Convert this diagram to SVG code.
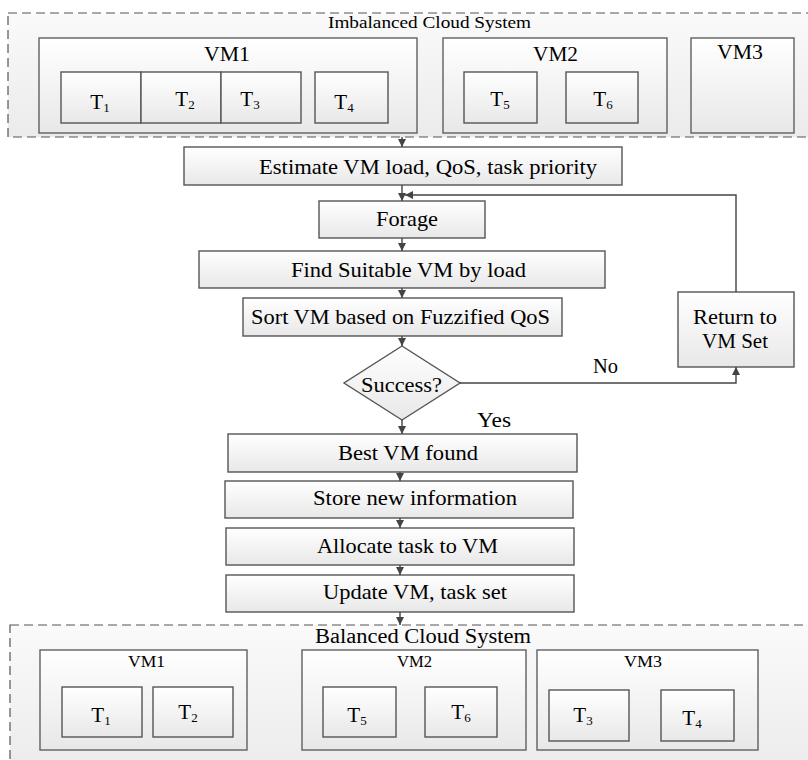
<svg xmlns="http://www.w3.org/2000/svg" width="808" height="760" viewBox="0 0 808 760">
  <defs>
    <linearGradient id="boxFill" x1="0" y1="0" x2="0" y2="1">
      <stop offset="0" stop-color="#ffffff"/>
      <stop offset="1" stop-color="#e8e8e8"/>
    </linearGradient>
    <linearGradient id="zoneFill" x1="0" y1="0" x2="0" y2="1">
      <stop offset="0" stop-color="#fafafa"/>
      <stop offset="1" stop-color="#ebebeb"/>
    </linearGradient>
    <marker id="arrow" viewBox="0 0 10 10" refX="10" refY="5" markerWidth="8" markerHeight="8" markerUnits="userSpaceOnUse" orient="auto">
      <path d="M0,0 L10,5 L0,10 z" fill="#444"/>
    </marker>
    <style>
      .zone { fill: url(#zoneFill); stroke: #555; stroke-width: 1.2; stroke-dasharray: 9 5; }
      .vm { fill: url(#boxFill); stroke: #606060; stroke-width: 1.4; }
      .task { fill: url(#boxFill); stroke: #555; stroke-width: 1.4; }
      .step { fill: url(#boxFill); stroke: #555; stroke-width: 1.4; }
      .lbl { font-family: "Liberation Serif", "Times New Roman", serif; fill: #000; }
      .f22 { font-size: 22px; }
      .f20 { font-size: 20px; }
      .f17 { font-size: 17px; }
      .f16 { font-size: 16px; }
      .tk { font-family: "Liberation Serif", "Times New Roman", serif; font-size: 21px; fill: #000; text-anchor: middle; }
      .sub { font-size: 13px; }
      .conn { fill: none; stroke: #444; stroke-width: 1.4; marker-end: url(#arrow); }
    </style>
  </defs>

  <rect width="808" height="760" fill="#ffffff"/>

  <!-- Initial cloud state -->
  <g id="imbalanced">
    <rect class="zone" x="8" y="13" width="820" height="124"/>
    <text class="lbl f17" x="328" y="28" textLength="203" lengthAdjust="spacingAndGlyphs">Imbalanced Cloud System</text>
    <g id="top-vm1">
      <rect class="vm" x="39" y="38" width="378" height="95"/>
      <text class="lbl f20" x="204" y="61" textLength="46" lengthAdjust="spacingAndGlyphs">VM1</text>
      <rect class="task" x="61" y="72" width="80" height="51"/>
      <rect class="task" x="141" y="72" width="80" height="51"/>
      <rect class="task" x="221" y="72" width="80" height="51"/>
      <rect class="task" x="315" y="72" width="73" height="51"/>
      <text class="tk" x="100" y="109">T<tspan class="sub" dy="3">1</tspan></text>
      <text class="tk" x="185" y="106">T<tspan class="sub" dy="3">2</tspan></text>
      <text class="tk" x="250" y="106">T<tspan class="sub" dy="3">3</tspan></text>
      <text class="tk" x="344" y="109">T<tspan class="sub" dy="3">4</tspan></text>
    </g>
    <g id="top-vm2">
      <rect class="vm" x="443" y="38" width="224" height="95"/>
      <text class="lbl f20" x="533" y="61" textLength="45" lengthAdjust="spacingAndGlyphs">VM2</text>
      <rect class="task" x="464" y="72" width="73" height="51"/>
      <rect class="task" x="566" y="72" width="72" height="51"/>
      <text class="tk" x="500" y="106">T<tspan class="sub" dy="3">5</tspan></text>
      <text class="tk" x="603" y="106">T<tspan class="sub" dy="3">6</tspan></text>
    </g>
    <g id="top-vm3">
      <rect class="vm" x="691" y="38" width="103" height="95"/>
      <text class="lbl f20" x="717" y="59" textLength="46" lengthAdjust="spacingAndGlyphs">VM3</text>
    </g>
  </g>

  <!-- Flow steps -->
  <g id="estimate">
    <rect class="step" x="184" y="147" width="438" height="38"/>
    <text class="lbl f22" x="259" y="174" textLength="338" lengthAdjust="spacingAndGlyphs">Estimate VM load, QoS, task priority</text>
  </g>
  <g id="forage">
    <rect class="step" x="319" y="201" width="166" height="37"/>
    <text class="lbl f22" x="376" y="226" textLength="62" lengthAdjust="spacingAndGlyphs">Forage</text>
  </g>
  <g id="find-vm">
    <rect class="step" x="199" y="251" width="406" height="37"/>
    <text class="lbl f22" x="291" y="277" textLength="235" lengthAdjust="spacingAndGlyphs">Find Suitable VM by load</text>
  </g>
  <g id="sort-vm">
    <rect class="step" x="243" y="298" width="319" height="38"/>
    <text class="lbl f22" x="251" y="324" textLength="299" lengthAdjust="spacingAndGlyphs">Sort VM based on Fuzzified QoS</text>
  </g>
  <g id="success">
    <polygon class="step" points="402,346 460,383 402,420 344,383"/>
    <text class="lbl f20" x="361" y="392" textLength="81" lengthAdjust="spacingAndGlyphs">Success?</text>
  </g>
  <g id="return-set">
    <rect class="step" x="678" y="292" width="116" height="75"/>
    <text class="lbl f22" x="693" y="324" textLength="84" lengthAdjust="spacingAndGlyphs">Return to</text>
    <text class="lbl f22" x="702" y="348" textLength="66" lengthAdjust="spacingAndGlyphs">VM Set</text>
  </g>
  <g id="best-vm">
    <rect class="step" x="228" y="434" width="349" height="38"/>
    <text class="lbl f22" x="338" y="460" textLength="140" lengthAdjust="spacingAndGlyphs">Best VM found</text>
  </g>
  <g id="store-info">
    <rect class="step" x="225" y="481" width="348" height="37"/>
    <text class="lbl f22" x="313" y="505" textLength="204" lengthAdjust="spacingAndGlyphs">Store new information</text>
  </g>
  <g id="allocate">
    <rect class="step" x="226" y="528" width="348" height="37"/>
    <text class="lbl f22" x="317" y="553" textLength="181" lengthAdjust="spacingAndGlyphs">Allocate task to VM</text>
  </g>
  <g id="update">
    <rect class="step" x="226" y="575" width="348" height="37"/>
    <text class="lbl f22" x="323" y="599" textLength="184" lengthAdjust="spacingAndGlyphs">Update VM, task set</text>
  </g>

  <!-- Resulting cloud state -->
  <g id="balanced">
    <rect class="zone" x="10" y="625" width="820" height="150"/>
    <text class="lbl f20" x="315" y="643" textLength="216" lengthAdjust="spacingAndGlyphs">Balanced Cloud System</text>
    <g id="bottom-vm1">
      <rect class="vm" x="40" y="650" width="207" height="100"/>
      <text class="lbl f16" x="128" y="667" textLength="37" lengthAdjust="spacingAndGlyphs">VM1</text>
      <rect class="task" x="62" y="687" width="80" height="50"/>
      <rect class="task" x="153" y="687" width="80" height="50"/>
      <text class="tk" x="101" y="722">T<tspan class="sub" dy="3">1</tspan></text>
      <text class="tk" x="188" y="719">T<tspan class="sub" dy="3">2</tspan></text>
    </g>
    <g id="bottom-vm2">
      <rect class="vm" x="302" y="650" width="224" height="100"/>
      <text class="lbl f16" x="397" y="667" textLength="35" lengthAdjust="spacingAndGlyphs">VM2</text>
      <rect class="task" x="323" y="687" width="73" height="50"/>
      <rect class="task" x="425" y="687" width="72" height="50"/>
      <text class="tk" x="357" y="722">T<tspan class="sub" dy="3">5</tspan></text>
      <text class="tk" x="461" y="719">T<tspan class="sub" dy="3">6</tspan></text>
    </g>
    <g id="bottom-vm3">
      <rect class="vm" x="537" y="650" width="221" height="100"/>
      <text class="lbl f16" x="624" y="667" textLength="38" lengthAdjust="spacingAndGlyphs">VM3</text>
      <rect class="task" x="549" y="690" width="80" height="51"/>
      <rect class="task" x="661" y="690" width="73" height="51"/>
      <text class="tk" x="583" y="722">T<tspan class="sub" dy="3">3</tspan></text>
      <text class="tk" x="692" y="725">T<tspan class="sub" dy="3">4</tspan></text>
    </g>
  </g>

  <!-- Connectors -->
  <g id="connectors">
    <line class="conn" x1="402" y1="137" x2="402" y2="147"/>
    <line class="conn" x1="402" y1="185" x2="402" y2="201"/>
    <polyline class="conn" points="736,292 736,195 405,195"/>
    <line class="conn" x1="402" y1="238" x2="402" y2="251"/>
    <line class="conn" x1="402" y1="288" x2="402" y2="298"/>
    <line class="conn" x1="402" y1="336" x2="402" y2="346"/>
    <polyline class="conn" points="460,383 736,383 736,367"/>
    <line class="conn" x1="402" y1="420" x2="402" y2="434"/>
    <line class="conn" x1="400" y1="472" x2="400" y2="481"/>
    <line class="conn" x1="400" y1="518" x2="400" y2="528"/>
    <line class="conn" x1="400" y1="565" x2="400" y2="575"/>
    <line class="conn" x1="400" y1="612" x2="400" y2="625"/>
    <text class="lbl f20" x="593" y="373" textLength="25" lengthAdjust="spacingAndGlyphs">No</text>
    <text class="lbl f20" x="477" y="427" textLength="34" lengthAdjust="spacingAndGlyphs">Yes</text>
  </g>
</svg>
